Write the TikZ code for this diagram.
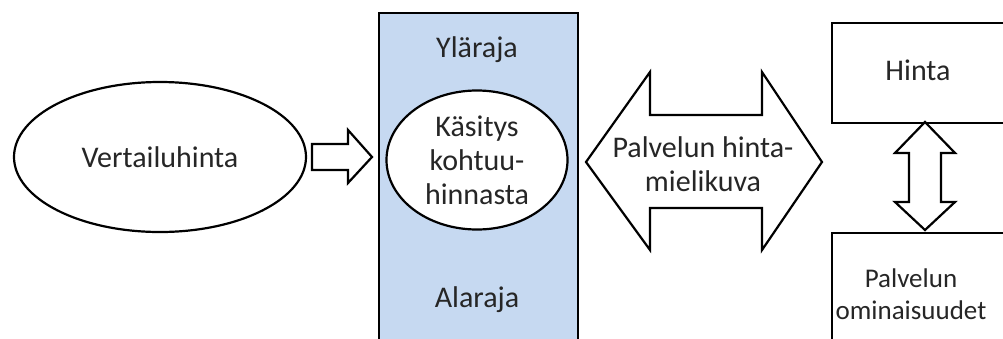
\documentclass[tikz,border=0pt]{standalone}
\usepackage{fontspec}
\setmainfont{Carlito}
\usetikzlibrary{shapes.geometric}
\definecolor{boxblue}{HTML}{C6D9F1}
\definecolor{txt}{HTML}{262626}
\tikzset{
  outline/.style={draw=black, line width=2.2pt, line join=miter},
  txtstyle/.style={text=txt, font=\fontsize{30}{34}\selectfont, inner sep=0pt, align=center},
  smalltxt/.style={text=txt, font=\fontsize{27}{32}\selectfont, inner sep=0pt, align=center},
  oval/.style={outline, ellipse, fill=white, inner sep=0pt},
  blockarrow/.style={outline, fill=white}
}
\begin{document}
\begin{tikzpicture}[x=1pt, y=-1pt]
\useasboundingbox (0,0) rectangle (1003,338);
\clip (0,0) rectangle (1003,338);
% left ellipse
\node[oval, minimum width=292pt, minimum height=150pt] (vert) at (160,157) {};
\node[txtstyle] (vertText) at (vert.center) {Vertailuhinta};
% blue column
\node[outline, fill=boxblue, rectangle, minimum width=199pt, minimum height=345pt, anchor=north] (col) at (478.5,12) {};
\node[txtstyle] (yla) at (477,50) {Yläraja};
\node[txtstyle] (ala) at (477,300) {Alaraja};
\node[oval, minimum width=181pt, minimum height=139pt] (kas) at (477,160) {};
\node[txtstyle] (kasText) at (kas.center) {Käsitys\\kohtuu-\\hinnasta};
% small arrow
\coordinate (sa) at (312,157);
\draw[blockarrow] (312,144) -- (348,144) -- (348,130) -- (372,157) -- (348,183) -- (348,170) -- (312,170) -- cycle;
% big double arrow
\draw[blockarrow] (586,162) -- (650,72) -- (650,115) -- (762,115) -- (762,72) -- (822,162) -- (762,250) -- (762,208) -- (650,208) -- (650,250) -- cycle;
\node[txtstyle] (pal) at (703,164) {Palvelun hinta-\\mielikuva};
% right boxes
\node[outline, rectangle, minimum width=190pt, minimum height=100pt, anchor=north west] (hinta) at (831,22) {};
\node[txtstyle] (hintaText) at (918,70) {Hinta};
\node[outline, rectangle, minimum width=190pt, minimum height=130pt, anchor=north west] (omin) at (831,232) {};
\node[smalltxt] (ominText) at (911,294) {Palvelun\\ominaisuudet};
% vertical double arrow
\draw[blockarrow] (925,122) -- (955,153) -- (941,153) -- (941,202) -- (955,202) -- (925,230) -- (895,202) -- (909,202) -- (909,153) -- (895,153) -- cycle;
\end{tikzpicture}
\end{document}
